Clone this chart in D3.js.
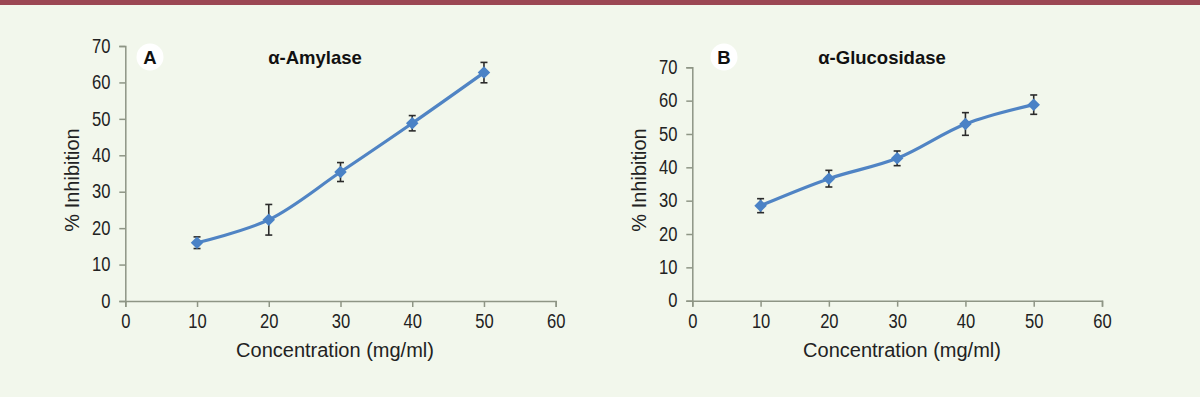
<!DOCTYPE html>
<html>
<head>
<meta charset="utf-8">
<script src="https://cdn.jsdelivr.net/npm/d3@7"></script>
<style>
  html, body { margin: 0; padding: 0; background: #f2f7ec; }
  svg { display: block; }
  .tick text { font-family: "Liberation Sans", sans-serif; font-size: 19.5px; fill: #222; }
  .axis path, .axis line { stroke: #8e9585; stroke-width: 1.5; }
  .axis-label { font-family: "Liberation Sans", sans-serif; font-size: 20px; fill: #222; }
  .title { font-family: "Liberation Sans", Arial, sans-serif; font-weight: bold; font-size: 18.5px; fill: #111; }
</style>
</head>
<body>
<div id="chart"></div>
<script>
// Shared axis setup
const concentrations = [10, 20, 30, 40, 50];
const xTicks = [0, 10, 20, 30, 40, 50, 60];
const yTicks = [0, 10, 20, 30, 40, 50, 60, 70];

// Panel A: alpha-amylase
const amylaseMean = [16.0, 22.3, 35.4, 48.8, 62.7];
const amylaseErr = [1.6, 4.2, 2.6, 2.1, 2.8];

// Panel B: alpha-glucosidase
const glucosidaseMean = [28.5, 36.6, 42.7, 53.0, 58.8];
const glucosidaseErr = [2.1, 2.5, 2.2, 3.4, 2.9];

const width = 1200;
const height = 397;
const narrow = 0.85; // no condensed font installed, squeeze tick labels instead

const svg = d3.select('#chart').append('svg')
  .attr('width', width)
  .attr('height', height);

svg.append('rect')
  .attr('width', width)
  .attr('height', height)
  .attr('fill', '#f2f7ec');

// Top rule
svg.append('rect')
  .attr('x', 0).attr('y', 0)
  .attr('width', width).attr('height', 5)
  .attr('fill', '#9b4753');

function drawPanel(opts) {
  const x = d3.scaleLinear().domain([0, 60]).range([opts.x0, opts.x1]);
  const y = d3.scaleLinear().domain([0, 70]).range([opts.y0, opts.y1]);

  const g = svg.append('g');

  g.append('g')
    .attr('class', 'axis')
    .attr('transform', `translate(0,${opts.y0})`)
    .call(d3.axisBottom(x).tickValues(xTicks).tickSizeOuter(0).tickSize(6).tickPadding(7))
    .call(a => a.selectAll('.tick text').attr('transform', `scale(${narrow},1)`));

  g.append('g')
    .attr('class', 'axis')
    .attr('transform', `translate(${opts.x0},0)`)
    .call(d3.axisLeft(y).tickValues(yTicks).tickSizeOuter(0).tickSize(6).tickPadding(11.5))
    .call(a => a.selectAll('.tick text').attr('transform', `scale(${narrow},1)`));

  const data = concentrations.map((c, i) => ({ c, v: opts.mean[i], e: opts.err[i] }));

  // Smoothed line like the spreadsheet original
  const line = d3.line()
    .x(d => x(d.c))
    .y(d => y(d.v))
    .curve(d3.curveCatmullRom.alpha(0.5));

  g.append('path')
    .datum(data)
    .attr('d', line)
    .attr('fill', 'none')
    .attr('stroke', '#5084c4')
    .attr('stroke-width', 3.2)
    .attr('stroke-linejoin', 'round');

  // Error bars
  const eb = g.append('g').attr('stroke', '#2b2b2b').attr('stroke-width', 1.6);
  eb.selectAll('line.v').data(data).enter().append('line')
    .attr('x1', d => x(d.c)).attr('x2', d => x(d.c))
    .attr('y1', d => y(d.v - d.e)).attr('y2', d => y(d.v + d.e));
  eb.selectAll('line.top').data(data).enter().append('line')
    .attr('x1', d => x(d.c) - 3.5).attr('x2', d => x(d.c) + 3.5)
    .attr('y1', d => y(d.v + d.e)).attr('y2', d => y(d.v + d.e));
  eb.selectAll('line.bot').data(data).enter().append('line')
    .attr('x1', d => x(d.c) - 3.5).attr('x2', d => x(d.c) + 3.5)
    .attr('y1', d => y(d.v - d.e)).attr('y2', d => y(d.v - d.e));

  // Diamond markers
  g.selectAll('path.marker').data(data).enter().append('path')
    .attr('class', 'marker')
    .attr('d', d3.symbol(d3.symbolDiamond2, 100))
    .attr('transform', d => `translate(${x(d.c)},${y(d.v)})`)
    .attr('fill', '#4a82c6');

  // Axis titles
  g.append('text')
    .attr('class', 'axis-label')
    .attr('x', opts.xLabelX)
    .attr('y', 357)
    .attr('text-anchor', 'middle')
    .text('Concentration (mg/ml)');

  g.append('text')
    .attr('class', 'axis-label')
    .attr('transform', `translate(${opts.yLabelX},180) rotate(-90)`)
    .attr('text-anchor', 'middle')
    .text('% Inhibition');

  // Badge and title
  g.append('circle')
    .attr('cx', opts.badgeX).attr('cy', 57).attr('r', 13.5)
    .attr('fill', '#ffffff');
  g.append('text')
    .attr('class', 'title')
    .attr('x', opts.badgeX).attr('y', 63.5)
    .attr('text-anchor', 'middle')
    .text(opts.letter);

  g.append('text')
    .attr('class', 'title')
    .attr('x', opts.titleX).attr('y', 63.5)
    .attr('text-anchor', 'middle')
    .text(opts.title);
}

drawPanel({
  x0: 125.3, x1: 555.7, y0: 301, y1: 46,
  mean: amylaseMean, err: amylaseErr,
  xLabelX: 335, yLabelX: 79, badgeX: 150, letter: 'A',
  titleX: 315, title: 'α-Amylase'
});

drawPanel({
  x0: 692.3, x1: 1102, y0: 300.7, y1: 67.3,
  mean: glucosidaseMean, err: glucosidaseErr,
  xLabelX: 902, yLabelX: 646, badgeX: 724, letter: 'B',
  titleX: 882, title: 'α-Glucosidase'
});
</script>
</body>
</html>
